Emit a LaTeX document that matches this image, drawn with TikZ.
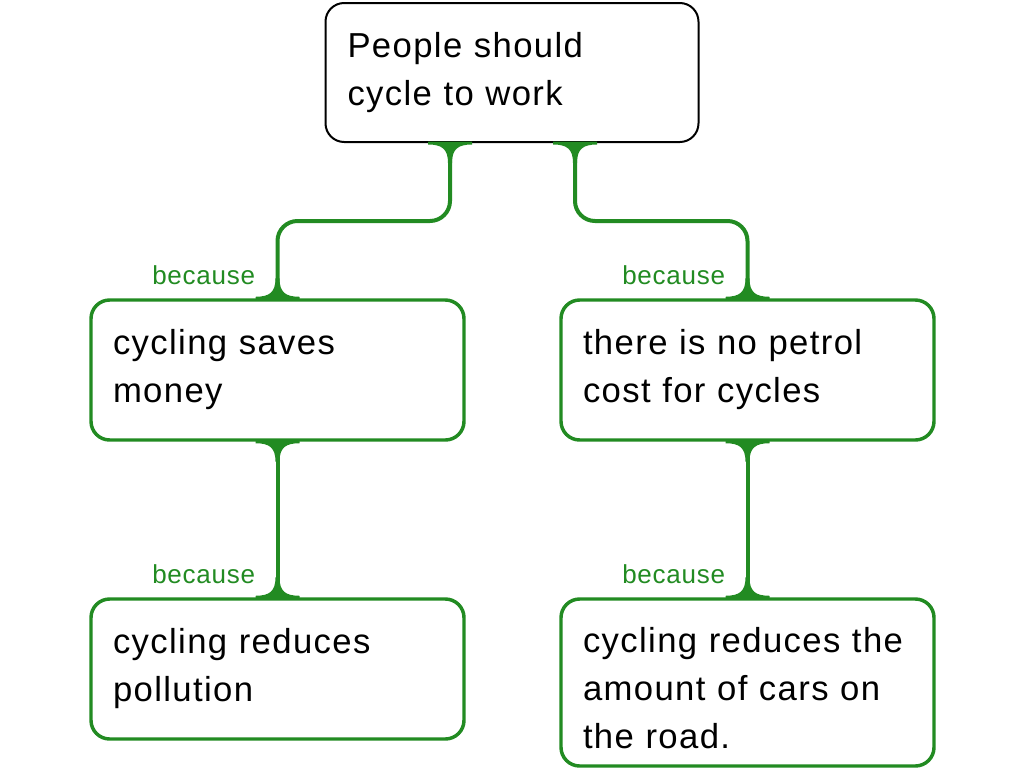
\documentclass[tikz,border=0pt]{standalone}
\usepackage{fontspec}
\setmainfont{Liberation Sans}
\newfontfamily\boxfont[LetterSpace=4]{Liberation Sans}
\newfontfamily\smallfont[LetterSpace=3]{Liberation Sans}
\usepackage{xcolor}
\definecolor{linkgreen}{RGB}{34, 139, 34}
\usepackage{tikz}
\usetikzlibrary{positioning, calc}
\tikzstyle{box} = [rectangle, draw=linkgreen, line width=2.6pt, fill=white, rounded corners=14pt, text width=246.75pt, inner xsep=16.5pt, inner ysep=0pt, minimum height=105pt, align=left, font=\boxfont\fontsize{26}{36}\selectfont]
\tikzstyle{claimbox} = [box, draw=black, line width=1.5pt, minimum height=104.25pt]
\tikzstyle{link} = [draw=linkgreen, line width=3pt, rounded corners=15pt]
\tikzstyle{because} = [text=linkgreen, font=\smallfont\fontsize{19.5}{22}\selectfont, inner sep=0pt, anchor=base east]
% flared end of a link: #1 point, #2 = 1 downwards, -1 upwards
\newcommand{\flare}[2]{%
  \begin{scope}[shift={#1}, yscale=#2]
    \fill[linkgreen] (-22,-1.5) -- (-22,1.5) .. controls (-8,1.5) and (-2,6) .. (-2,20)
      -- (2,20) .. controls (2,6) and (8,1.5) .. (22,1.5) -- (22,-1.5) -- cycle;
  \end{scope}}

\begin{document}
\begin{tikzpicture}[x=0.75pt, y=-0.75pt]
    \useasboundingbox (0,0) rectangle (1024,768);

    \node[claimbox] (claim) at (512,72.5) {People should\\cycle to work};
    \node[box] (save) at (277.5,370) {cycling saves\\money};
    \node[box] (petrol) at (747.5,370) {there is no petrol\\cost for cycles};
    \node[box] (pollution) at (277.5,669) {cycling reduces\\pollution};
    \node[box, minimum height=125.25pt] (cars) at (747.5,682.5) {\rule{0pt}{26.5pt}cycling reduces the\\amount of cars on\\the road.};

    \draw[link] ($(claim.south)+(-62,0)$) -- ++(0,78) -| (save.north);
    \draw[link] ($(claim.south)+(63,0)$) -- ++(0,78) -| (petrol.north);
    \draw[link] (save.south) -- (pollution.north);
    \draw[link] (petrol.south) -- (cars.north);

    \flare{($(claim.south)+(-62,0)$)}{1}
    \flare{($(claim.south)+(63,0)$)}{1}
    \flare{(save.north)}{-1}
    \flare{(petrol.north)}{-1}
    \flare{(save.south)}{1}
    \flare{(petrol.south)}{1}
    \flare{(pollution.north)}{-1}
    \flare{(cars.north)}{-1}

    \node[because] (b1) at ($(save.north)+(-22,-14)$) {because};
    \node[because] (b2) at ($(petrol.north)+(-22,-14)$) {because};
    \node[because] (b3) at ($(pollution.north)+(-22,-14)$) {because};
    \node[because] (b4) at ($(cars.north)+(-22,-14)$) {because};
\end{tikzpicture}
\end{document}
